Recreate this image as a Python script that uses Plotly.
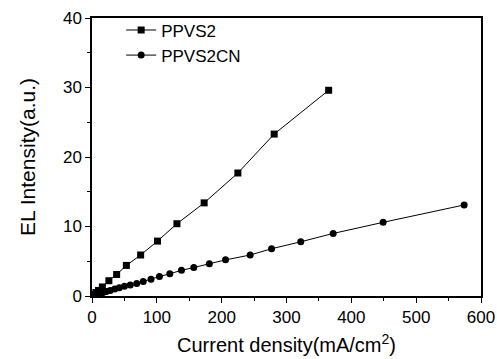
import plotly.graph_objects as go

ppvs2_x = [1, 3, 6, 10, 16, 26, 38, 53, 75, 101, 131, 173, 225, 281, 365]
ppvs2_y = [0.05, 0.2, 0.5, 0.8, 1.3, 2.2, 3.1, 4.4, 5.9, 7.9, 10.4, 13.4, 17.7, 23.3, 29.6]

ppvs2cn_x = [2, 5, 8, 12, 17, 22, 28, 35, 42, 50, 59, 69, 79, 91, 104, 120, 138, 157, 181, 206, 244, 277, 322, 372, 449, 574]
ppvs2cn_y = [0.05, 0.15, 0.25, 0.35, 0.5, 0.65, 0.8, 1.0, 1.2, 1.4, 1.6, 1.8, 2.1, 2.4, 2.8, 3.2, 3.7, 4.1, 4.65, 5.2, 5.9, 6.8, 7.8, 9.0, 10.6, 13.1]

x_ticks = [0, 100, 200, 300, 400, 500, 600]
y_ticks = [0, 10, 20, 30, 40]

FONT = "Liberation Sans, Arial, sans-serif"

fig = go.Figure()
fig.add_trace(go.Scatter(x=ppvs2_x, y=ppvs2_y, mode="lines+markers", name="PPVS2",
                         line=dict(color="black", width=1),
                         marker=dict(symbol="square", size=7, color="black")))
fig.add_trace(go.Scatter(x=ppvs2cn_x, y=ppvs2cn_y, mode="lines+markers", name="PPVS2CN",
                         line=dict(color="black", width=1),
                         marker=dict(symbol="circle", size=7, color="black")))

axis_common = dict(showline=True, linecolor="black", linewidth=1.5, mirror=True,
                   ticks="outside", tickcolor="black", ticklen=5, tickwidth=1,
                   showgrid=False, zeroline=False, automargin=False,
                   tickfont=dict(family=FONT, size=17, color="black"))

fig.update_xaxes(range=[0, 600], tickvals=x_ticks,
                 minor=dict(ticks="outside", dtick=50, ticklen=3, tickcolor="black"),
                 title=dict(text="Current density(mA/cm<sup>2</sup>)",
                            font=dict(family=FONT, size=20, color="black"), standoff=12),
                 **axis_common)
fig.update_yaxes(range=[0, 40], tickvals=y_ticks,
                 minor=dict(ticks="outside", dtick=5, ticklen=3, tickcolor="black"),
                 title=dict(text="EL Intensity(a.u.)",
                            font=dict(family=FONT, size=21, color="black"), standoff=22),
                 **axis_common)

fig.update_layout(width=497, height=359,
                  margin=dict(l=92, r=16, t=13, b=63),
                  paper_bgcolor="white", plot_bgcolor="white",
                  showlegend=True,
                  legend=dict(x=0.075, y=1.02, xanchor="left", yanchor="top",
                              bgcolor="rgba(0,0,0,0)",
                              font=dict(family=FONT, size=17, color="black"),
                              tracegroupgap=0, itemwidth=30))

fig.write_html("out.html")
